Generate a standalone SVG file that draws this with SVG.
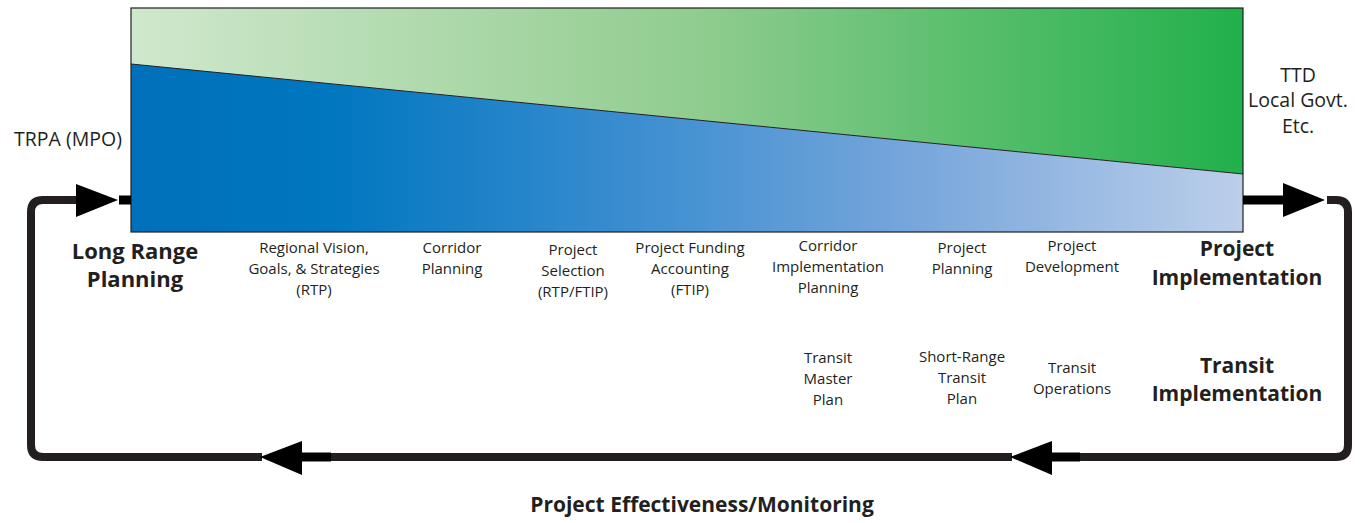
<svg xmlns="http://www.w3.org/2000/svg" width="1366" height="523" viewBox="0 0 1366 523">
<defs>
<linearGradient id="gGreen" x1="131" y1="0" x2="1243" y2="0" gradientUnits="userSpaceOnUse">
<stop offset="0" stop-color="#d0e8cd"/>
<stop offset="0.5" stop-color="#92cd90"/>
<stop offset="1" stop-color="#21b04b"/>
</linearGradient>
<linearGradient id="gBlue" x1="131" y1="0" x2="1243" y2="0" gradientUnits="userSpaceOnUse">
<stop offset="0" stop-color="#0070ba"/>
<stop offset="0.18" stop-color="#0077c0"/>
<stop offset="0.45" stop-color="#3b8dd0"/>
<stop offset="0.72" stop-color="#7ba8dc"/>
<stop offset="1" stop-color="#bccfea"/>
</linearGradient>
</defs>
<style>
text{font-family:"Open Sans","Noto Sans","Liberation Sans",sans-serif;fill:#231f20;text-anchor:middle}
.sm{font-size:15px}
.md{font-size:19.5px}
.bd{font-size:22px;font-weight:bold}
.bdr{font-size:21px;font-weight:bold}
.ft{font-size:21px;font-weight:bold}
.line{fill:none;stroke:#231f20;stroke-width:8}
.seg{fill:none;stroke:#000;stroke-width:9}
.head{fill:#000}
</style>
<g id="panel">
<polygon points="131,8 1243,8 1243,174 131,64" fill="url(#gGreen)"/>
<polygon points="131,64 1243,174 1243,232 131,232" fill="url(#gBlue)"/>
<line x1="131" y1="64" x2="1243" y2="174" stroke="#231f20" stroke-width="1"/>
<rect x="131" y="8" width="1112" height="224" fill="none" stroke="#231f20" stroke-width="1.2"/>
</g>
<g id="connectors">
<path class="line" d="M77 200 H43 Q31 200 31 212 V445 Q31 457 43 457 H262"/>
<path class="line" d="M331 457 H1012"/>
<path class="line" d="M1080 457 H1336 Q1348 457 1348 445 V212 Q1348 200 1336 200 H1327"/>
<path class="seg" d="M119 200 H131"/>
<path class="seg" d="M300 457 H331"/>
<path class="seg" d="M1050 457 H1080"/>
<path class="seg" d="M1243 200 H1285"/>
<polygon class="head" points="76,184 118,200 76,217"/>
<polygon class="head" points="302,441 260,457 302,475"/>
<polygon class="head" points="1052,441 1010,457 1052,475"/>
<polygon class="head" points="1283,183 1325,200 1283,217"/>
</g>
<g id="trpa"><text class="md" x="68" y="146">TRPA (MPO)</text></g>
<g id="ttd"><text class="md" x="1298" y="82">TTD</text><text class="md" x="1298" y="107">Local Govt.</text><text class="md" x="1298" y="133">Etc.</text></g>
<g id="long-range"><text class="bd" x="135" y="259">Long Range</text><text class="bd" x="135" y="287">Planning</text></g>
<g id="project-impl"><text class="bdr" x="1237" y="256">Project</text><text class="bdr" x="1237" y="285">Implementation</text></g>
<g id="transit-impl"><text class="bdr" x="1237" y="373">Transit</text><text class="bdr" x="1237" y="401">Implementation</text></g>
<g id="regional"><text class="sm" x="314" y="253">Regional Vision,</text><text class="sm" x="314" y="274">Goals, &amp; Strategies</text><text class="sm" x="314" y="295">(RTP)</text></g>
<g id="corridor"><text class="sm" x="452" y="253">Corridor</text><text class="sm" x="452" y="274">Planning</text></g>
<g id="selection"><text class="sm" x="573" y="255">Project</text><text class="sm" x="573" y="276">Selection</text><text class="sm" x="573" y="297">(RTP/FTIP)</text></g>
<g id="funding"><text class="sm" x="690" y="253">Project Funding</text><text class="sm" x="690" y="274">Accounting</text><text class="sm" x="690" y="295">(FTIP)</text></g>
<g id="corridor-impl"><text class="sm" x="828" y="251">Corridor</text><text class="sm" x="828" y="272">Implementation</text><text class="sm" x="828" y="293">Planning</text></g>
<g id="project-planning"><text class="sm" x="962" y="253">Project</text><text class="sm" x="962" y="274">Planning</text></g>
<g id="project-dev"><text class="sm" x="1072" y="251">Project</text><text class="sm" x="1072" y="272">Development</text></g>
<g id="transit-master"><text class="sm" x="828" y="363">Transit</text><text class="sm" x="828" y="384">Master</text><text class="sm" x="828" y="405">Plan</text></g>
<g id="short-range"><text class="sm" x="962" y="362">Short-Range</text><text class="sm" x="962" y="383">Transit</text><text class="sm" x="962" y="404">Plan</text></g>
<g id="transit-ops"><text class="sm" x="1072" y="373">Transit</text><text class="sm" x="1072" y="394">Operations</text></g>
<g id="monitoring"><text class="ft" x="702" y="512">Project Effectiveness/Monitoring</text></g>
</svg>
